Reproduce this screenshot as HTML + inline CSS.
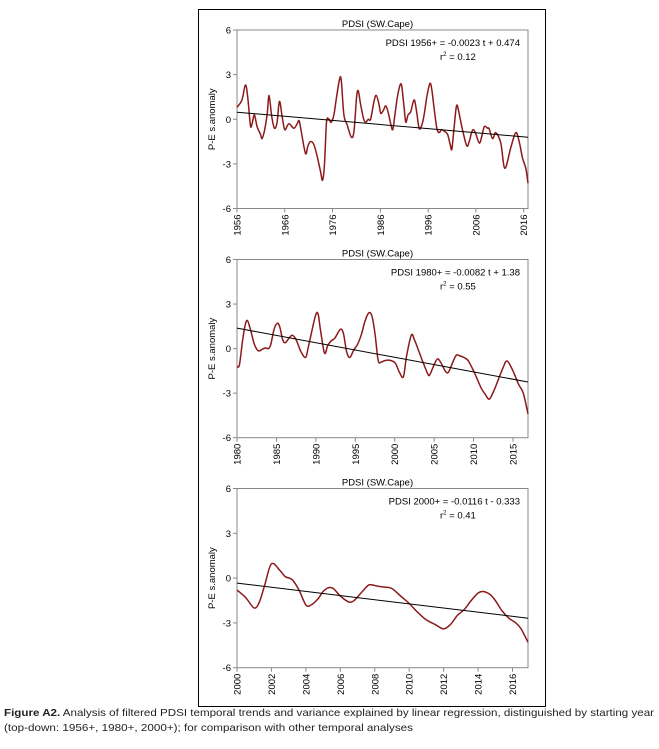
<!DOCTYPE html>
<html><head><meta charset="utf-8"><style>
html,body{margin:0;padding:0;background:#fff;}
svg{display:block;font-family:"Liberation Sans",Arial,sans-serif;}
</style></head><body>
<svg id="fig" width="659" height="749" viewBox="0 0 659 749" xmlns="http://www.w3.org/2000/svg">
<rect x="198.5" y="9.5" width="347" height="697" fill="none" stroke="#000" stroke-width="1"/>
<g id="charts"></g>
<text x="4" y="716" font-size="10.5" fill="#222" textLength="650" lengthAdjust="spacingAndGlyphs"><tspan font-weight="bold">Figure A2.</tspan> Analysis of filtered PDSI temporal trends and variance explained by linear regression, distinguished by starting year</text>
<text x="4" y="731" font-size="10.5" fill="#222" textLength="409" lengthAdjust="spacingAndGlyphs">(top-down: 1956+, 1980+, 2000+); for comparison with other temporal analyses</text>
</svg>
<script>
// ---- data ----
const years1956 = [1956.0,1957.05,1957.75,1958.24,1958.8,1959.15,1959.64,1960.2,1960.9,1961.24,1961.73,1962.3,1962.71,1963.27,1963.83,1964.39,1964.88,1965.44,1966.0,1966.84,1967.89,1968.59,1969.0,1969.43,1970.34,1970.83,1971.38,1972.08,1972.78,1973.48,1973.9,1974.32,1974.74,1975.23,1975.72,1976.28,1976.84,1977.47,1977.82,1978.38,1979.08,1979.92,1980.48,1981.03,1981.38,1981.87,1982.43,1982.92,1983.48,1983.97,1984.67,1985.16,1985.72,1986.07,1986.63,1987.12,1987.61,1988.17,1988.59,1989.01,1989.57,1990.13,1990.48,1990.97,1991.32,1991.8,1992.36,1993.06,1993.55,1994.11,1994.67,1995.16,1995.73,1996.36,1996.77,1997.26,1997.82,1998.31,1998.8,1999.36,2000.06,2000.62,2000.97,2001.45,2001.94,2002.36,2002.85,2003.41,2004.11,2004.6,2005.09,2005.5,2006.0,2006.7,2007.19,2007.75,2008.45,2008.75,2009.5,2010.15,2011.2,2012.05,2013.3,2014.35,2015.05,2015.75,2016.45,2016.9];
const values1956 = [0.8,1.3,2.3,1.5,-0.4,-0.3,0.3,-0.5,-1.0,-1.3,-0.8,0.3,1.6,0.2,-0.6,-0.2,1.2,0.2,-0.7,-0.3,-0.6,-0.3,-0.1,-0.8,-2.3,-1.8,-1.5,-1.7,-2.5,-3.5,-4.1,-3.0,-0.2,0.0,-0.2,0.3,1.5,2.7,2.6,0.3,-0.4,-1.2,-0.8,1.5,1.9,1.0,0.1,-0.2,0.0,0.0,1.2,1.6,1.0,0.4,0.6,0.9,0.5,-0.3,-0.7,0.2,1.5,2.3,2.2,0.8,-0.2,0.3,0.5,1.3,0.6,-0.6,-0.4,0.3,1.5,2.4,2.0,0.7,-0.6,-0.9,-0.7,-0.8,-1.0,-1.7,-2.0,-0.5,0.9,0.6,-0.2,-1.0,-1.8,-1.5,-0.9,-0.7,-1.0,-1.6,-1.2,-0.5,-0.6,-0.64,-1.3,-0.9,-1.6,-3.3,-1.9,-0.9,-1.5,-2.6,-3.3,-4.3];
const years1980 = [1980.0,1980.3,1980.7,1981.0,1981.3,1981.7,1982.2,1982.7,1983.2,1983.6,1984.0,1984.3,1984.7,1985.1,1985.4,1985.8,1986.1,1986.6,1987.0,1987.5,1988.1,1988.7,1989.0,1989.5,1990.0,1990.3,1990.6,1991.1,1991.5,1991.9,1992.4,1993.1,1993.5,1993.9,1994.3,1994.8,1995.3,1995.8,1996.2,1996.7,1997.1,1997.5,1997.9,1998.3,1998.8,1999.5,2000.1,2000.6,2001.1,2001.5,2002.1,2002.5,2003.0,2003.5,2004.1,2004.4,2004.9,2005.4,2005.8,2006.4,2006.8,2007.3,2007.8,2008.3,2008.8,2009.3,2010.0,2010.5,2011.0,2011.5,2012.0,2012.6,2013.2,2013.8,2014.26,2015.0,2015.7,2016.3,2016.9];
const values1980 = [-1.2,-1.1,0.5,1.5,1.9,1.3,0.3,-0.15,-0.05,0.05,0.0,0.3,1.3,1.7,1.5,0.6,0.4,0.7,0.9,0.6,-0.2,-0.6,0.0,1.2,2.3,2.3,1.2,-0.3,0.2,0.5,0.7,1.3,1.0,-0.2,-0.6,-0.1,0.3,1.0,1.8,2.4,2.2,1.0,-0.8,-0.9,-0.8,-0.8,-1.0,-1.6,-1.9,-0.5,0.9,0.6,-0.1,-0.8,-1.6,-1.8,-1.2,-0.7,-0.9,-1.5,-1.6,-1.0,-0.45,-0.5,-0.6,-0.8,-1.5,-2.1,-2.7,-3.1,-3.4,-2.8,-2.0,-1.2,-0.84,-1.5,-2.4,-3.0,-4.4];
const years2000 = [2000.0,2000.5,2001.0,2001.3,2001.6,2002.0,2002.5,2002.8,2003.2,2003.6,2004.0,2004.3,2004.7,2005.0,2005.3,2005.6,2006.0,2006.5,2006.8,2007.2,2007.6,2007.8,2008.2,2008.6,2009.0,2009.5,2010.0,2010.5,2011.0,2011.5,2012.0,2012.4,2012.8,2013.2,2013.6,2014.0,2014.3,2014.7,2015.0,2015.4,2015.8,2016.2,2016.5,2016.9];
const values2000 = [-0.8,-1.3,-2.0,-1.6,-0.5,0.95,0.5,0.1,-0.1,-0.8,-1.8,-1.8,-1.4,-0.9,-0.65,-0.7,-1.2,-1.6,-1.5,-1.0,-0.5,-0.45,-0.55,-0.6,-0.7,-1.2,-1.7,-2.3,-2.8,-3.1,-3.4,-3.1,-2.5,-2.1,-1.5,-1.0,-0.9,-1.1,-1.5,-2.2,-2.7,-3.0,-3.4,-4.3];
const trendSlopes = [-0.0023,-0.0082,-0.0116];
const trendIntercepts = [0.474,1.38,-0.333];
const startYears = [1956,1980,2000];
const tickYears1956 = [1956,1966,1976,1986,1996,2006,2016];
const tickYears1980 = [1980,1985,1990,1995,2000,2005,2010,2015];
const tickYears2000 = [2000,2002,2004,2006,2008,2010,2012,2014,2016];
const yTicks = [6,3,0,-3,-6];
const eqLabels = ["PDSI 1956+ = -0.0023 t + 0.474","PDSI 1980+ = -0.0082 t + 1.38","PDSI 2000+ = -0.0116 t - 0.333"];
const r2Labels = ["0.12","0.55","0.41"];
const chartNames = ["chart-1956","chart-1980","chart-2000"];

const NS="http://www.w3.org/2000/svg";
const root=document.getElementById('charts');
function mk(tag,attrs,parent){const e=document.createElementNS(NS,tag);for(const k in attrs)e.setAttribute(k,attrs[k]);parent.appendChild(e);return e;}
const tops=[30,259.5,488.5], bots=[208.5,437.7,667.7];
const L=237, R=528, END=2016.9;
const allYears=[years1956,years1980,years2000], allVals=[values1956,values1980,values2000], allTicks=[tickYears1956,tickYears1980,tickYears2000];

function smoothPath(pts){
  let d='M'+pts[0][0].toFixed(1)+','+pts[0][1].toFixed(1);
  for(let i=0;i<pts.length-1;i++){
    const p0=pts[Math.max(0,i-1)],p1=pts[i],p2=pts[i+1],p3=pts[Math.min(pts.length-1,i+2)];
    const c1x=p1[0]+(p2[0]-p0[0])/6,c1y=p1[1]+(p2[1]-p0[1])/6;
    const c2x=p2[0]-(p3[0]-p1[0])/6,c2y=p2[1]-(p3[1]-p1[1])/6;
    d+='C'+c1x.toFixed(1)+','+c1y.toFixed(1)+' '+c2x.toFixed(1)+','+c2y.toFixed(1)+' '+p2[0].toFixed(1)+','+p2[1].toFixed(1);
  }
  return d;
}

for(let c=0;c<3;c++){
  const g=mk('g',{},root);
  
  
  const T=tops[c],B=bots[c],s=startYears[c];
  const xs=y=>L+(y-s)/(END-s)*(R-L);
  const ys=v=>T+(6-v)/12*(B-T);
  const frame=mk('rect',{x:L,y:T,width:R-L,height:B-T,fill:'none',stroke:'#888','stroke-width':1},g);
  
  
  const title=mk('text',{x:(L+R)/2-5,y:T-3,'font-size':9.5,'text-anchor':'middle',fill:'#000'},g);
  title.textContent='PDSI (SW.Cape)';
  
  
  yTicks.forEach(v=>{
    mk('line',{x1:L-4,x2:L,y1:ys(v),y2:ys(v),stroke:'#888'},g);
    const t=mk('text',{x:L-6,y:ys(v)+3.5,'font-size':9.5,'text-anchor':'end',fill:'#000'},g);
    t.textContent=String(v);
    
    
  });
  const yt=mk('text',{transform:`translate(215,${(T+B)/2}) rotate(-90)`,'font-size':9.5,'text-anchor':'middle',fill:'#000'},g);
  yt.textContent='P-E s.anomaly';
  
  
  allTicks[c].forEach(yr=>{
    const x=xs(yr);
    mk('line',{x1:x,x2:x,y1:B,y2:B+4,stroke:'#888'},g);
    const t=mk('text',{transform:`translate(${x+3.5},${B+6}) rotate(-90)`,'font-size':9.5,'text-anchor':'end',fill:'#000'},g);
    t.textContent=String(yr);
    
    
  });
  const yrs=allYears[c], vals=allVals[c];
  const pts=yrs.map((y,i)=>[xs(y),ys(vals[i])]);
  const p=mk('path',{d:smoothPath(pts),fill:'none',stroke:'#8b1a1a','stroke-width':1.5,'stroke-linejoin':'round'},g);
  
  
  const f=yr=>trendIntercepts[c]+trendSlopes[c]*(yr-s)*12;
  const tl=mk('line',{x1:xs(s),y1:ys(f(s)),x2:xs(END),y2:ys(f(END)),stroke:'#000','stroke-width':1},g);
  
  
  const eq=mk('text',{x:520,y:T+16,'font-size':9.5,'text-anchor':'end',fill:'#000'},g);
  eq.textContent=eqLabels[c];
  
  
  const r2=mk('text',{x:440,y:T+30,'font-size':9.5,fill:'#000'},g);
  r2.innerHTML='r<tspan font-size="6" dy="-4">2</tspan><tspan dy="4"> = '+r2Labels[c]+'</tspan>';
  
  
}
</script>
</body></html>
